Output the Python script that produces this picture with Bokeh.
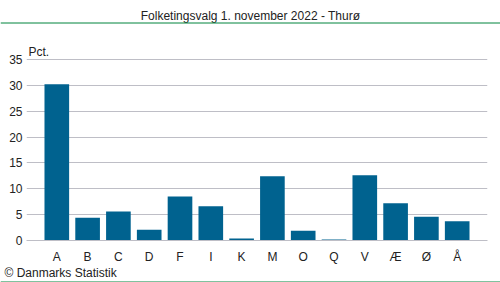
from bokeh.plotting import figure
from bokeh.layouts import column, row
from bokeh.models import Label, FixedTicker, ColumnDataSource, Range1d
from bokeh.core.properties import value
from bokeh.embed import file_html
from bokeh.resources import INLINE

parties = ["A", "B", "C", "D", "F", "I", "K", "M", "O", "Q", "V", "Æ", "Ø", "Å"]
pct = [30.2, 4.4, 5.6, 2.1, 8.5, 6.6, 0.4, 12.4, 1.9, 0.2, 12.6, 7.2, 4.6, 3.7]
y_ticks = [0, 5, 10, 15, 20, 25, 30, 35]
title_text = "Folketingsvalg 1. november 2022 - Thurø"
unit_text = "Pct."
credit_text = "© Danmarks Statistik"

FONT = "Liberation Sans"
GREEN = "#00843C"
GRID = "#BEBEC6"
BAR = "#00628F"
TXT = "#222222"
W = 500
TOP_H = 30
BOT_H = 16
MAIN_H = 282 - TOP_H - BOT_H


def strip(h):
    f = figure(width=W, height=h, output_backend="svg", toolbar_location=None,
               x_range=Range1d(0, W), y_range=Range1d(h, 0),
               x_axis_location=None, y_axis_location=None,
               min_border=0, min_border_left=0, min_border_right=0,
               min_border_top=0, min_border_bottom=0)
    f.outline_line_color = None
    f.xgrid.grid_line_color = None
    f.ygrid.grid_line_color = None
    f.border_fill_color = "white"
    f.background_fill_color = "white"
    return f


# top strip: title + green rule
top = strip(TOP_H)
top.text(x=[250], y=[15], text=[title_text], text_align="center", text_baseline="alphabetic",
         text_font=value(FONT), text_font_size="12px", text_color=TXT)
top.segment(x0=[0], y0=[22.5], x1=[W], y1=[22.5], line_color=GREEN, line_width=1)

# main chart
idx = list(range(len(parties)))
src = ColumnDataSource(dict(x=idx, top=pct))
px_per_unit = 181 / 35
p = figure(width=W, height=MAIN_H, output_backend="svg", toolbar_location=None,
           x_range=Range1d(-0.984, len(parties) - 1 + 0.984),
           y_range=Range1d(0, 35 + 19 / px_per_unit),
           min_border_left=26, min_border_right=13, min_border_top=40 - TOP_H,
           min_border_bottom=26)
p.outline_line_color = None
p.background_fill_color = "white"
p.border_fill_color = "white"

p.vbar(x="x", top="top", width=0.8, source=src, color=BAR, line_color=None)

p.xgrid.grid_line_color = None
p.ygrid.grid_line_color = GRID
p.ygrid.grid_line_width = 1
p.ygrid.ticker = FixedTicker(ticks=y_ticks)

p.yaxis.ticker = FixedTicker(ticks=y_ticks)
p.yaxis.axis_line_color = None
p.yaxis.major_tick_line_color = None
p.yaxis.minor_tick_line_color = None
p.yaxis.major_tick_out = 0
p.yaxis.major_tick_in = 0
p.yaxis.minor_tick_out = 0
p.yaxis.major_label_standoff = 4
p.yaxis.major_label_text_font = FONT
p.yaxis.major_label_text_font_size = "12px"
p.yaxis.major_label_text_color = TXT

p.xaxis.ticker = FixedTicker(ticks=idx)
p.xaxis.major_label_overrides = {i: c for i, c in zip(idx, parties)}
p.xaxis.axis_line_color = GRID
p.xaxis.major_tick_line_color = None
p.xaxis.minor_tick_line_color = None
p.xaxis.major_tick_out = 0
p.xaxis.major_tick_in = 0
p.xaxis.minor_tick_out = 0
p.xaxis.major_label_standoff = 9
p.xaxis.major_label_text_font = FONT
p.xaxis.major_label_text_font_size = "12px"
p.xaxis.major_label_text_color = TXT

p.add_layout(Label(x=28, y=51.5 - TOP_H, x_units="canvas", y_units="canvas", text=unit_text,
                   text_align="left", text_baseline="alphabetic", text_font=FONT,
                   text_font_size="12px", text_color=TXT))

# bottom strip: credit + green rule
bot = strip(BOT_H)
bot.text(x=[4], y=[6], text=[credit_text], text_align="left", text_baseline="alphabetic",
         text_font=value(FONT), text_font_size="12px", text_color=TXT)
bot.segment(x0=[0], y0=[15.5], x1=[W], y1=[15.5], line_color=GREEN, line_width=1)

layout = column(row(top), row(p), row(bot), spacing=0)
open("out.html", "w").write(file_html(layout, INLINE))
